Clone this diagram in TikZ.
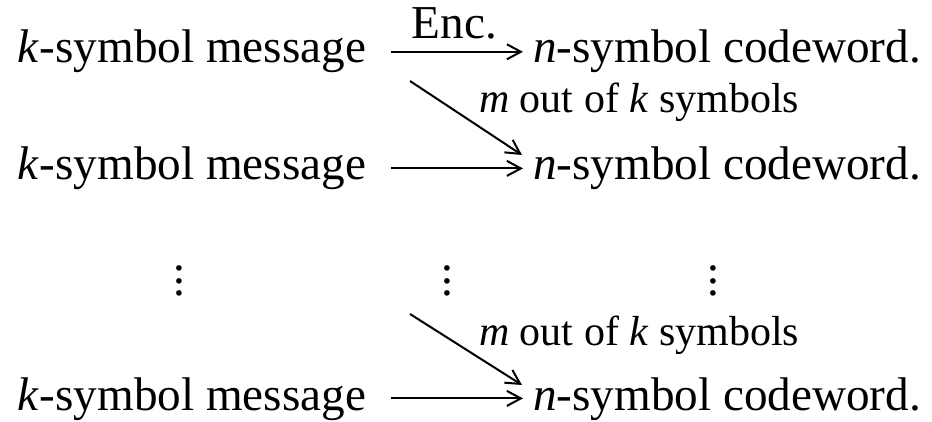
\documentclass[tikz,border=0pt]{standalone}
\usepackage{fontspec}
\setmainfont{Liberation Serif}
\usetikzlibrary{positioning, arrows.meta}

\newcommand\vdotz{\vbox{\baselineskip=6.25pt\lineskiplimit=-20pt\hbox{.}\hbox{.}\hbox{.}}}

\begin{document}
\begin{tikzpicture}[x=0.5pt,y=-0.5pt,->,>={Straight Barb[length=7pt,width=7.5pt]},line width=1pt,
  row/.style={inner sep=0pt,anchor=base west,font=\fontsize{23.6}{28}\selectfont},
  lbl/.style={inner sep=0pt,anchor=base west,font=\fontsize{21}{25}\selectfont},
  enc/.style={shorten <=12pt,shorten >=4.5pt}]

\useasboundingbox (0,0) rectangle (932,422);

\node[row] (m1) at (17,63) {\textit{k}-symbol message};
\node[row] (c1) at (532,63) {\textit{n}-symbol codeword.};
\node[row] (m2) at (17,180) {\textit{k}-symbol message};
\node[row] (c2) at (532,180) {\textit{n}-symbol codeword.};
\node[row] (m3) at (17,410) {\textit{k}-symbol message};
\node[row] (c3) at (532,410) {\textit{n}-symbol codeword.};

% vertical dots
\node[inner sep=0pt,font=\fontsize{23.6}{28}\selectfont] (d1) at (179,281) {\vdotz};
\node[inner sep=0pt,font=\fontsize{23.6}{28}\selectfont] (d2) at (447,281) {\vdotz};
\node[inner sep=0pt,font=\fontsize{23.6}{28}\selectfont] (d3) at (713,281) {\vdotz};

\node[lbl] (l1) at (478,113) {\textit{m} out of \textit{k} symbols};
\node[lbl] (l2) at (478,345) {\textit{m} out of \textit{k} symbols};

\coordinate (s1) at (410,81);
\coordinate (s2) at (410,314);

\draw[enc] ([yshift=5.6pt]m1.base east) -- ([yshift=5.6pt]c1.base west)
      node[pos=0.53,above=6pt,inner sep=0pt,font=\fontsize{23.6}{28}\selectfont] (e) {Enc.};
\draw[enc] ([yshift=5.8pt]m2.base east) -- ([yshift=5.8pt]c2.base west);
\draw[enc] ([yshift=5.8pt]m3.base east) -- ([yshift=5.8pt]c3.base west);

\draw (s1) -- ([xshift=-5pt,yshift=12.5pt]c2.base west);
\draw (s2) -- ([xshift=-5pt,yshift=12.5pt]c3.base west);

\end{tikzpicture}
\end{document}
